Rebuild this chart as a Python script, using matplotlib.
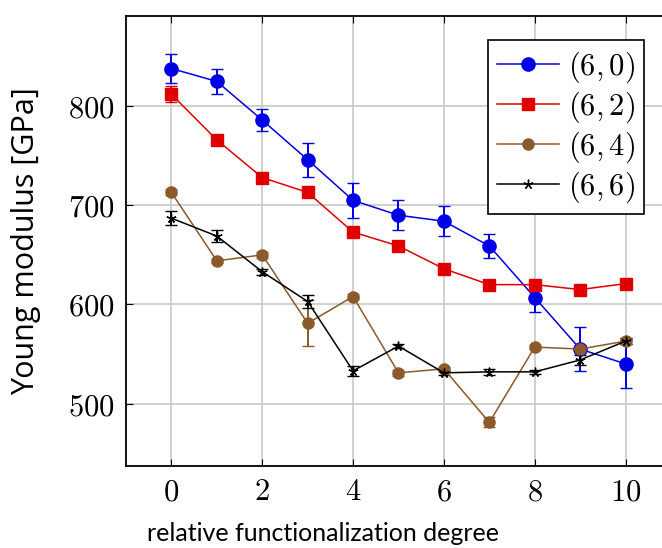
import matplotlib.pyplot as plt

plt.rcParams['mathtext.fontset'] = 'cm'

x = [0, 1, 2, 3, 4, 5, 6, 7, 8, 9, 10]

# (6,0)
y60 = [838, 825, 786, 746, 705, 690, 684, 659, 607, 555, 540]
e60 = [15, 13, 11, 17, 18, 15, 15, 12, 15, 22, 24]
# (6,2)
y62 = [812, 766, 728, 713, 673, 659, 636, 620, 620, 615, 621]
e62 = [8, 2, 2, 2, 2, 2, 2, 2, 2, 2, 2]
# (6,4)
y64 = [713, 644, 650, 581, 608, 531, 535, 481, 557, 555, 563]
e64 = [3, 2, 3, 23, 3, 3, 2, 5, 2, 3, 3]
# (6,6)
y66 = [687, 669, 633, 603, 533, 558, 531, 532, 532, 544, 563]
e66 = [7, 6, 3, 7, 5, 2, 2, 3, 2, 5, 3]

labels = ['$(6,0)$', '$(6,2)$', '$(6,4)$', '$(6,6)$']
xticks = [0, 2, 4, 6, 8, 10]
yticks = [500, 600, 700, 800]

fig = plt.figure(figsize=(6.62, 5.48), dpi=100)
ax = fig.add_axes([0.1903, 0.1496, 0.8233, 0.8212])

series = [
    (y60, e60, '#0000e6', 'o', 9.5),
    (y62, e62, '#e00000', 's', 8.5),
    (y64, e64, '#8b5a2b', 'o', 8),
    (y66, e66, 'black', (5, 2, 0), 7),
]
handles = []
for (y, e, c, m, ms), lab in zip(series, labels):
    cont = ax.errorbar(x, y, yerr=e, color=c, marker=m, markersize=ms, lw=1.1,
                       elinewidth=1.4, capsize=4.5, capthick=1.4, label=lab,
                       markeredgewidth=1.0)
    handles.append(cont[0])

ax.set_xlim(-1, 11)
ax.set_ylim(437, 891)
ax.set_xticks(xticks)
ax.set_yticks(yticks)
ax.set_xticklabels(['$%d$' % t for t in xticks], fontsize=22)
ax.set_yticklabels(['$%d$' % t for t in yticks], fontsize=22)
ax.tick_params(direction='in', length=5, width=0.8, top=True, right=True, pad=8)
ax.grid(True, color='#c8c8c8', lw=1.2)
ax.set_axisbelow(True)
for s in ax.spines.values():
    s.set_linewidth(1.3)

ax.set_xlabel('relative functionalization degree', fontsize=18, family='Lato')
ax.set_ylabel('Young modulus [GPa]', fontsize=22, family='Open Sans')
ax.xaxis.set_label_coords(0.3615, -0.125)
ax.yaxis.set_label_coords(-0.155, 0.5)

leg = ax.legend(handles, labels, loc='upper right', bbox_to_anchor=(0.9505, 0.9467),
                borderaxespad=0, fontsize=22, fancybox=False, framealpha=1,
                edgecolor='black', handlelength=2.0, labelspacing=0.15,
                borderpad=0.3, handletextpad=0.3)
leg.get_frame().set_linewidth(1.2)

fig.savefig('out.png', dpi=100)
